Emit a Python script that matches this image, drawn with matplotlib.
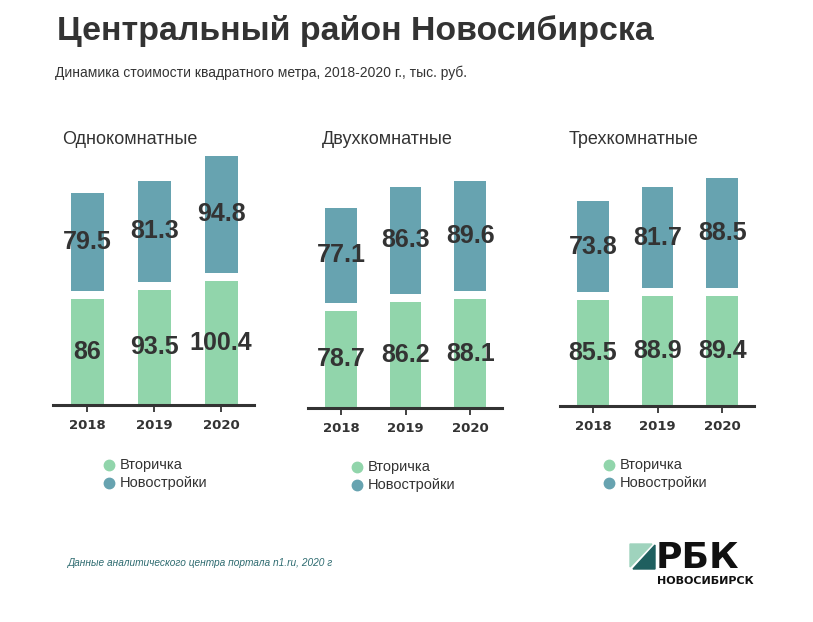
import matplotlib
matplotlib.use('Agg')
import matplotlib.pyplot as plt
from matplotlib.patches import Polygon
from matplotlib.lines import Line2D

plt.rcParams['font.family'] = ['Liberation Sans', 'DejaVu Sans']

# данные
years = ['2018', '2019', '2020']
panels = ['Однокомнатные', 'Двухкомнатные', 'Трехкомнатные']
vtorichka = [[86, 93.5, 100.4], [78.7, 86.2, 88.1], [85.5, 88.9, 89.4]]
novostroyki = [[79.5, 81.3, 94.8], [77.1, 86.3, 89.6], [73.8, 81.7, 88.5]]
legend_labels = ['Вторичка', 'Новостройки']

green = '#91d5ab'
teal = '#67a3b0'
dark = '#333333'

W, H = 813, 622
fig = plt.figure(figsize=(W / 100, H / 100), dpi=100)


def fx(x):
    return x / W


def fy(y):
    return 1 - y / H


scale = 1.235          # пикселей на тыс. руб.
gap = 8 / scale        # белый зазор между сегментами
# (left, right, axis y) в пикселях
boxes = [(53, 254, 405), (308, 502, 408), (560, 754, 406)]
title_x = [62, 322, 569]
legend_pos = [(109, 465), (357, 467), (609, 465)]

for i, name in enumerate(panels):
    L, R, Y = boxes[i]
    ax = fig.add_axes([fx(L), fy(Y), (R - L) / W, 280 / H])
    ax.set_xlim(-0.51, 2.49)
    ax.set_ylim(0, 280 / scale)
    x = range(len(years))
    v = vtorichka[i]
    n = novostroyki[i]
    bottoms = [a + gap for a in v]
    ax.bar(x, v, width=0.49, color=green)
    ax.bar(x, n, width=0.49, bottom=bottoms, color=teal)
    for k in x:
        ax.text(k, v[k] / 2, f'{v[k]:g}', ha='center', va='center',
                fontsize=18, fontweight='bold', color=dark)
        ax.text(k, bottoms[k] + n[k] / 2, f'{n[k]:g}', ha='center', va='center',
                fontsize=18, fontweight='bold', color=dark)
    for s in ['top', 'right', 'left']:
        ax.spines[s].set_visible(False)
    ax.spines['bottom'].set_linewidth(2.2)
    ax.spines['bottom'].set_color(dark)
    ax.set_yticks([])
    ax.set_xticks(list(x))
    ax.set_xticklabels(years, fontsize=9.5, fontweight='bold', color=dark,
                       family='DejaVu Sans')
    ax.tick_params(axis='x', length=5, width=1.3, color=dark, pad=5)
    ax.patch.set_alpha(0)

    fig.text(fx(title_x[i]), fy(140), name, fontsize=13, color=dark,
             ha='left', va='center')

    lx, ly = legend_pos[i]
    for j, (lab, c) in enumerate(zip(legend_labels, [green, teal])):
        yy = ly + j * 18
        fig.add_artist(Line2D([fx(lx)], [fy(yy)], marker='o', markersize=7.5,
                              color=c, linestyle='', transform=fig.transFigure))
        fig.text(fx(lx + 11), fy(yy), lab, fontsize=10.5, color=dark,
                 ha='left', va='center')

fig.text(fx(57), fy(31), 'Центральный район Новосибирска', fontsize=24.4,
         fontweight='bold', color=dark, ha='left', va='center')
fig.text(fx(55), fy(73), 'Динамика стоимости квадратного метра, 2018-2020 г., тыс. руб.',
         fontsize=10, color=dark, ha='left', va='center')
fig.text(fx(68), fy(563), 'Данные аналитического центра портала n1.ru, 2020 г',
         fontsize=7.3, style='italic', color='#2e6b70', ha='left', va='center')

# логотип
fig.add_artist(Polygon([(fx(630), fy(544)), (fx(652), fy(544)), (fx(630), fy(567))],
                       closed=True, color='#9fd3bd', transform=fig.transFigure))
fig.add_artist(Polygon([(fx(633), fy(569)), (fx(655), fy(545)), (fx(655), fy(569))],
                       closed=True, color='#1f5f5f', transform=fig.transFigure))
fig.text(fx(656), fy(568), 'РБК', fontsize=26, fontweight='bold', color='#111111',
         ha='left', va='baseline', family='DejaVu Sans')
fig.text(fx(657), fy(584), 'НОВОСИБИРСК', fontsize=8, fontweight='bold',
         color='#111111', ha='left', va='baseline', family='DejaVu Sans')

fig.savefig('out.png', dpi=100)
